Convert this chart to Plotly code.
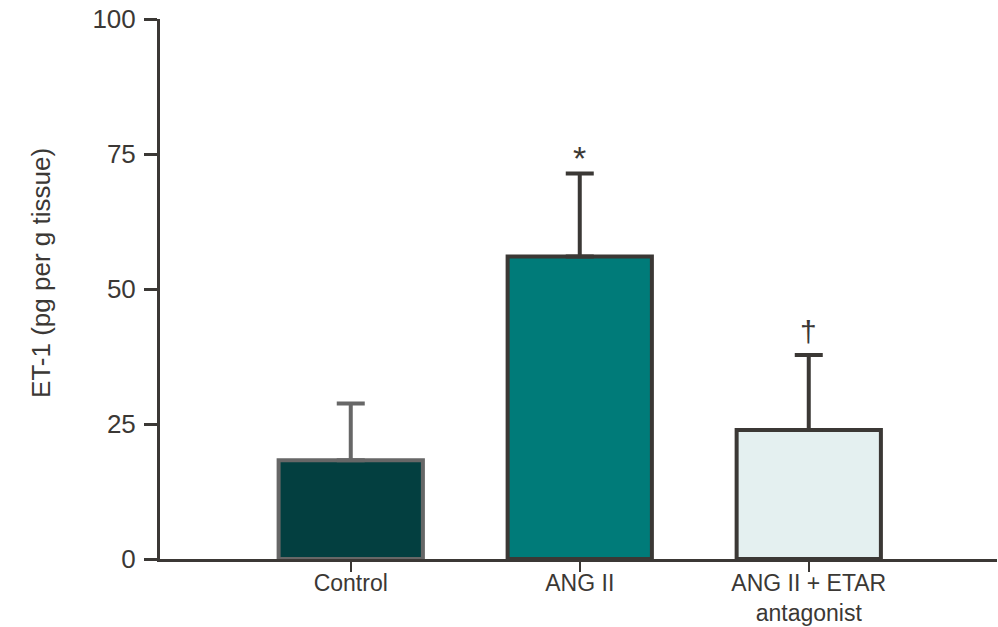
import plotly.graph_objects as go

categories = ["Control", "ANG II", "ANG II + ETAR<br>antagonist"]
means = [18.3, 56.0, 23.9]
sem_upper = [10.5, 15.4, 13.9]
significance = ["", "*", "†"]
y_ticks = [0, 25, 50, 75, 100]

fill_colors = ["#033f40", "#007b79", "#e4f0f0"]
edge_colors = ["#676767", "#3b3835", "#3b3835"]
text_color = "#3b3835"
mark_sizes = {"*": 34, "†": 30}
mark_offsets = {"*": -1.1, "†": 0.9}

fig = go.Figure()
for i, cat in enumerate(categories):
    fig.add_trace(go.Bar(
        x=[cat], y=[means[i]],
        width=0.63,
        marker=dict(color=fill_colors[i], line=dict(color=edge_colors[i], width=4)),
        error_y=dict(type="data", symmetric=False, array=[sem_upper[i]], arrayminus=[0],
                     color=edge_colors[i], thickness=4, width=14),
        showlegend=False,
    ))

for i, cat in enumerate(categories):
    s = significance[i]
    if s:
        fig.add_annotation(
            x=cat, y=means[i] + sem_upper[i] + mark_offsets[s], xref="x", yref="y",
            text=s, showarrow=False, yanchor="bottom",
            font=dict(size=mark_sizes[s],
                      family="Liberation Sans, Arial, sans-serif", color=text_color),
        )

fig.add_annotation(
    x=-0.142, y=0.53, xref="paper", yref="paper", textangle=-90,
    xanchor="center", yanchor="middle",
    text="ET-1 (pg per g tissue)", showarrow=False,
    font=dict(size=26, family="Liberation Sans, Arial, sans-serif", color=text_color),
)

fig.update_layout(
    width=998, height=627,
    margin=dict(l=160, r=1, t=19, b=68, autoexpand=False),
    paper_bgcolor="white", plot_bgcolor="white",
    barmode="overlay",
    font=dict(family="Liberation Sans, Arial, sans-serif", color=text_color),
    xaxis=dict(
        type="category", range=[-0.833, 2.822], automargin=False,
        showline=True, linecolor=text_color, linewidth=3,
        ticks="outside", ticklen=10, tickwidth=2, tickcolor=text_color,
        tickfont=dict(size=23, color=text_color), ticklabelstandoff=-9,
        ticklabeloverflow="allow",
        showgrid=False, zeroline=False,
    ),
    yaxis=dict(
        range=[0, 100], tickvals=y_ticks, automargin=False,
        showline=True, linecolor=text_color, linewidth=3,
        ticks="outside", ticklen=13, tickwidth=3, tickcolor=text_color,
        tickfont=dict(size=26, color=text_color), ticklabelstandoff=3,
        ticklabeloverflow="allow",
        showgrid=False, zeroline=False,
    ),
)

fig.write_html("out.html", config={"displayModeBar": False},
               post_script="document.body.style.margin='0';")
